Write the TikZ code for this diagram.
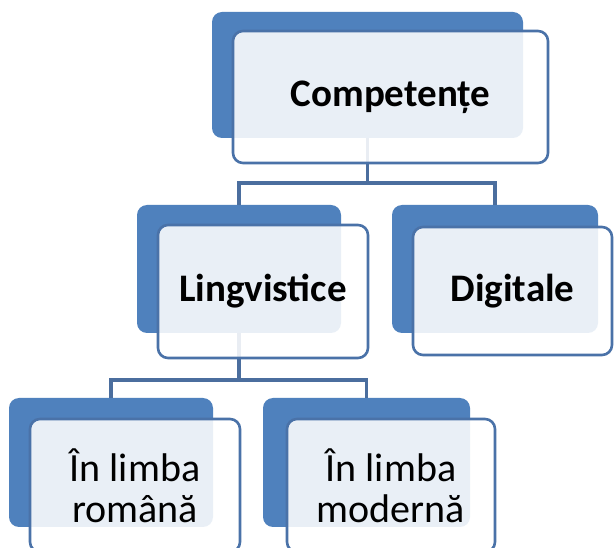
\documentclass[tikz,border=0pt]{standalone}
\usepackage{fontspec}
\setmainfont{Carlito}
\definecolor{accent}{HTML}{4F81BD}
\definecolor{edge}{HTML}{4A72A8}
\definecolor{conn}{HTML}{4B6E9E}
\begin{document}
\begin{tikzpicture}[x=1pt,y=1pt,
  backbox/.style={rounded corners=10pt, fill=accent, draw=none, inner sep=0pt},
  frontbox/.style={rounded corners=10pt, fill=white, fill opacity=0.88, text opacity=1,
    draw=edge, line width=2.6pt, inner sep=0pt, align=center, text=black},
  boldtxt/.style={font=\fontsize{39}{40}\selectfont\bfseries},
  regtxt/.style={font=\fontsize{40}{41}\selectfont},
  connector/.style={draw=conn, line width=3.2pt}]
\useasboundingbox (0,0) rectangle (614,547);
\fill[white] (0,0) rectangle (614,547);
% back boxes
\node[backbox, minimum width=311pt, minimum height=126pt] (topback) at (367.5,472) {};
\node[backbox, minimum width=204pt, minimum height=128pt] (lingback) at (239,278) {};
\node[backbox, minimum width=206pt, minimum height=128pt] (digback) at (495,278) {};
\node[backbox, minimum width=204pt, minimum height=129pt] (romback) at (111,84.5) {};
\node[backbox, minimum width=207pt, minimum height=129pt] (modback) at (366.5,84.5) {};
% buses
\coordinate (bus1) at (0,364);
\coordinate (bus2) at (0,167);
% connectors
\draw[connector] (topback.south) -- (topback.south |- bus1) -| (lingback.north);
\draw[connector] (topback.south |- bus1) -| (digback.north);
\draw[connector] (lingback.south) -- (lingback.south |- bus2) -| (romback.north);
\draw[connector] (lingback.south |- bus2) -| (modback.north);
% front boxes
\node[frontbox, boldtxt, minimum width=315pt, minimum height=132pt] (topfront) at (390.5,450) {Competențe};
\node[frontbox, boldtxt, minimum width=210pt, minimum height=133pt] (lingfront) at (263,255.5) {Lingvistice};
\node[frontbox, boldtxt, minimum width=199pt, minimum height=128pt] (digfront) at (512.5,256) {Digitale};
\node[frontbox, regtxt, minimum width=210pt, minimum height=133pt] (romfront) at (135,61.5) {În limba\\română};
\node[frontbox, regtxt, minimum width=208pt, minimum height=133pt] (modfront) at (391,61.5) {În limba\\modernă};
\end{tikzpicture}
\end{document}
